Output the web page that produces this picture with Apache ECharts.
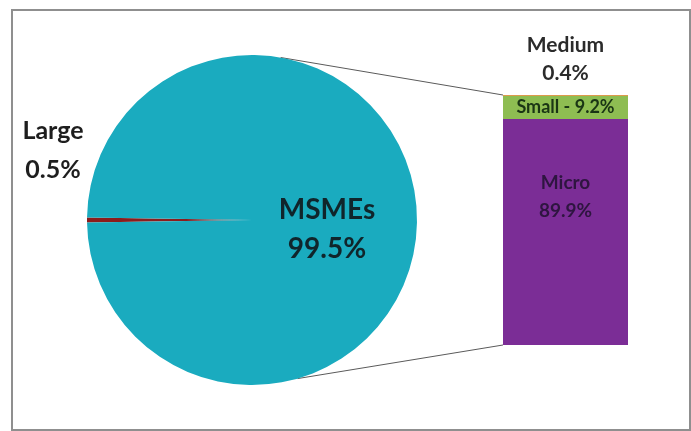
<!DOCTYPE html>
<html>
<head>
<meta charset="utf-8">
<script src="https://cdn.jsdelivr.net/npm/echarts@6/dist/echarts.min.js"></script>
<style>
  html, body { margin: 0; padding: 0; background: #fff; }
  #main { width: 691px; height: 431px; }
</style>
</head>
<body>
<div id="main"></div>
<script>
// shares of enterprises
var pieNames = ['Large', 'MSMEs'];
var pieValues = [0.5, 99.5];
var barNames = ['Micro', 'Small', 'Medium'];
var barValues = [89.9, 9.2, 0.4];

var pieColors = ['#8c1c1c', '#1aabbf'];
var barColors = ['#7b2d96', '#8ebd52', '#dd9a4c'];
var barTextColors = ['#2e1540', '#1a3514', '#2b2b2b'];

// layout
var cx = 252, cy = 220, r = 165;
var gLeft = 503, gTop = 95, gWidth = 125, gHeight = 250;

var total = barValues.reduce(function (a, b) { return a + b; }, 0);

function piePoint(deg) {
	var a = deg * Math.PI / 180;
	return [cx + r * Math.cos(a), cy - r * Math.sin(a)];
}
var pTop = piePoint(80), pBot = piePoint(-74);

var myChart = echarts.init(document.getElementById('main'));

var barSeries = barNames.map(function (name, i) {
	var label;
	if (name === 'Medium') {
		label = { show: true, position: 'top', distance: 8, formatter: '{a}\n{c}%',
			fontSize: 21, lineHeight: 28, fontWeight: 'bold', color: barTextColors[i] };
	} else if (name === 'Small') {
		label = { show: true, position: 'inside', formatter: '{a} - {c}%',
			fontSize: 18, fontWeight: 'bold', color: barTextColors[i] };
	} else {
		label = { show: true, position: 'insideTop', distance: 50, formatter: '{a}\n{c}%',
			fontSize: 19, lineHeight: 28, fontWeight: 'bold', color: barTextColors[i] };
	}
	return {
		name: name,
		type: 'bar',
		stack: 'msme',
		barWidth: '100%',
		silent: true,
		itemStyle: { color: barColors[i] },
		label: label,
		data: [barValues[i]]
	};
});

myChart.setOption({
	animation: false,
	textStyle: { fontFamily: 'Lato, "Open Sans", sans-serif' },

	grid: { left: gLeft, top: gTop, width: gWidth, height: gHeight },

	xAxis: {
		type: 'category',
		show: false,
		data: ['MSMEs']
	},

	yAxis: {
		type: 'value',
		show: false,
		min: 0,
		max: total
	},

	series: [
		{
			name: 'Enterprises',
			type: 'pie',
			center: [cx, cy],
			radius: r,
			startAngle: 180 + pieValues[0] * 1.8,
			silent: true,
			label: {
				show: true,
				position: 'inside',
				formatter: '{b}\n{c}%',
				fontWeight: 'bold',
				lineHeight: 39,
				overflow: 'none'
			},
			labelLine: { show: false },
			labelLayout: function (p) {
				if (p.dataIndex === 0) {
					return { x: 53, y: 150, align: 'center', verticalAlign: 'middle' };
				}
				return { x: 327, y: 229, align: 'center', verticalAlign: 'middle' };
			},
			data: pieNames.map(function (n, i) {
				return {
					name: n,
					value: pieValues[i],
					itemStyle: { color: pieColors[i] },
					label: i === 0
						? { fontSize: 25, color: '#1e1e1e' }
						: { fontSize: 28, color: '#10252b' }
				};
			})
		}
	].concat(barSeries),

	graphic: [
		{
			type: 'rect',
			shape: { x: 12, y: 10, width: 678, height: 420 },
			style: { fill: 'none', stroke: '#8f8f8f', lineWidth: 2 },
			silent: true
		},
		{
			type: 'line',
			shape: { x1: pTop[0], y1: pTop[1], x2: gLeft, y2: gTop },
			style: { stroke: '#5a5a5a', lineWidth: 1 },
			silent: true
		},
		{
			type: 'line',
			shape: { x1: pBot[0], y1: pBot[1], x2: gLeft, y2: gTop + gHeight },
			style: { stroke: '#5a5a5a', lineWidth: 1 },
			silent: true
		}
	]
});
</script>
</body>
</html>
